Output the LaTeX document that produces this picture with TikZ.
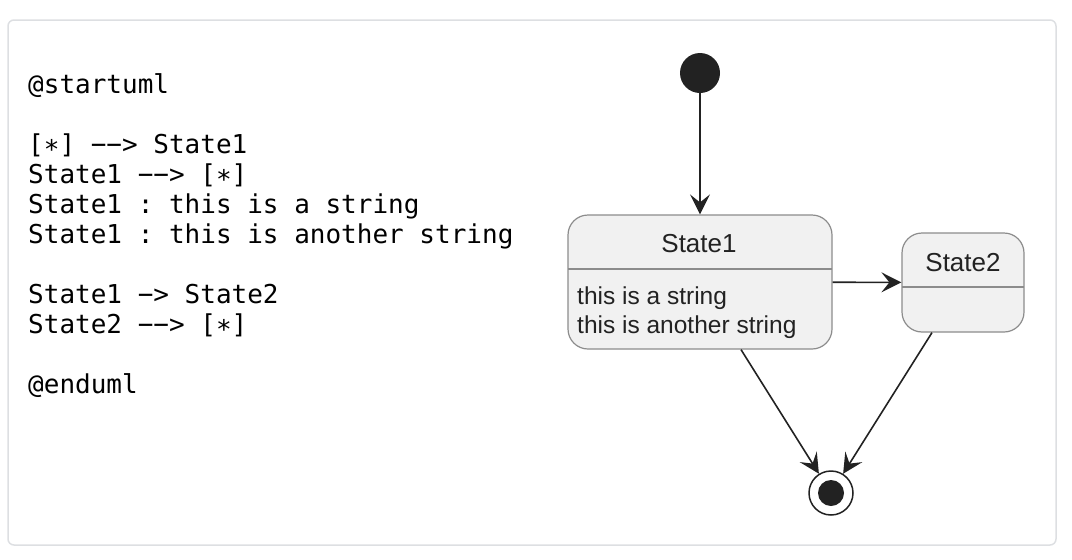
\documentclass[tikz,border=0pt]{standalone}
\usepackage{fontspec}
\setmainfont{Liberation Sans}
\setmonofont{DejaVu Sans Mono}
\usepackage{tikz}
\usetikzlibrary{arrows.meta}
\usetikzlibrary{positioning,calc}
\usepackage{xcolor}
\definecolor{framegray}{HTML}{DDDFE2}
\definecolor{statefill}{HTML}{F1F1F1}
\definecolor{stateline}{HTML}{8C8C8C}
\definecolor{ink}{HTML}{222222}
\tikzset{
    statebox/.style={
        draw=stateline,
        fill=statefill,
        rounded corners=20pt,
        line width=1.2pt,
        inner sep=0pt
    },
    codeline/.style={
        anchor=base west,
        inner sep=0pt,
        font=\ttfamily\fontsize{26}{30}\selectfont
    },
    title/.style={
        inner sep=0pt,
        text=ink,
        font=\fontsize{26}{30}\selectfont
    },
    body/.style={
        anchor=base west,
        inner sep=0pt,
        text=ink,
        font=\fontsize{24.5}{29}\selectfont
    },
    trans/.style={
        draw=ink,
        line width=1.6pt,
        -{Stealth[length=20pt, width=20pt, inset=8pt]}
    }
}

\begin{document}
\begin{tikzpicture}[x=1pt, y=-1pt]
    \useasboundingbox (0,0) rectangle (1072,560);
    \draw[framegray, line width=1.5pt, rounded corners=6pt] (8,20) rectangle (1056,545);

    % source text
    \node[codeline] (code1) at (28,93) {@startuml};
    \node[codeline] (code2) at (28,153) {[∗] −−> State1};
    \node[codeline] (code3) at (28,183) {State1 −−> [∗]};
    \node[codeline] (code4) at (28,213) {State1 : this is a string};
    \node[codeline] (code5) at (28,243) {State1 : this is another string};
    \node[codeline] (code6) at (28,303) {State1 −> State2};
    \node[codeline] (code7) at (28,333) {State2 −−> [∗]};
    \node[codeline] (code8) at (28,393) {@enduml};

    % diagram
    \node[circle, fill=ink, minimum size=40pt, inner sep=0pt] (start) at (700,73) {};

    \node[statebox, minimum width=264pt, minimum height=134pt] (s1) at (700,282) {};
    \draw[stateline, line width=1.2pt] (568,269) -- (832,269);
    \node[title] (s1title) at (699,244) {State1};
    \node[body] (s1line1) at (577,304) {this is a string};
    \node[body] (s1line2) at (577,333) {this is another string};

    \node[statebox, minimum width=122pt, minimum height=99pt] (s2) at (963,282.5) {};
    \draw[stateline, line width=1.2pt] (902,287) -- (1024,287);
    \node[title] (s2title) at (963,263) {State2};

    \node[circle, draw=ink, line width=1.5pt, fill=white, minimum size=44pt, inner sep=0pt] (fin) at (831,493) {};
    \node[circle, fill=ink, minimum size=26pt, inner sep=0pt] (finin) at (831,493) {};

    \draw[trans] (start) -- (s1);
    \draw[trans] (s1) -- (s2);
    \draw[trans] ([xshift=41pt]s1.south) -- (fin);
    \draw[trans] ([xshift=-31pt]s2.south) -- (fin);
\end{tikzpicture}
\end{document}
